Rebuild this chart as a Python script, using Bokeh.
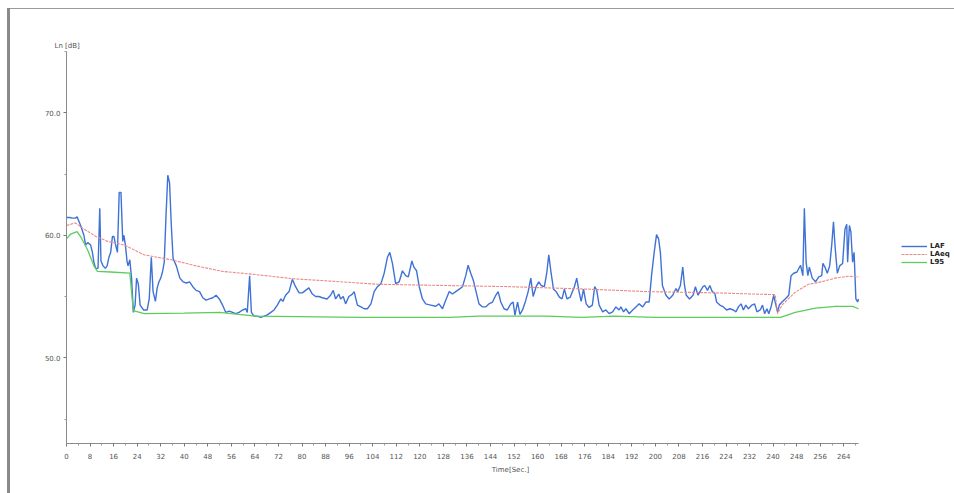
from bokeh.plotting import figure
from bokeh.models import Range1d, FixedTicker, Legend, LegendItem, PrintfTickFormatter
from bokeh.embed import file_html
from bokeh.resources import INLINE

# ---- data ----
laf_t = [0, 1, 2, 3, 3.6, 4.8, 5.9, 6.5, 7.2, 8.2, 8.8, 9.3, 9.9, 10.7, 11.3, 11.7, 12.4, 13.2, 13.8,
         14.4, 15.0, 15.6, 16.1, 16.7, 17.3, 17.9, 18.5, 19.1, 19.5, 20.0, 20.6, 20.9, 21.5, 22.1, 22.7,
         23.3, 23.8, 24.4, 25.0, 26.2, 27.4, 28.1, 28.8, 29.4, 30.2, 30.8, 31.4, 32.0, 32.6, 33.2, 33.8,
         34.4, 35.0, 35.6, 36.2, 37.3, 38.5, 39.6, 40.7, 41.8, 42.9, 44.0, 45.2, 46.3, 47.4, 48.5, 49.7,
         50.8, 51.9, 53.0, 54.1, 55.3, 56.4, 57.5, 58.6, 59.8, 60.9, 61.4, 62.2, 62.8, 63.7, 64.8, 66.0,
         67.1, 68.2, 69.4, 70.5, 71.6, 72.8, 73.5, 74.4, 75.6, 76.7, 77.8, 79.0, 80.1, 81.2, 82.3, 83.5,
         84.6, 85.7, 86.9, 88.5, 89.7, 90.6, 91.4, 92.5, 93.1, 94.0, 94.8, 95.9, 97.1, 97.7, 98.8, 100.0,
         101.1, 102.2, 103.4, 104.5, 105.6, 106.8, 107.9, 109.0, 109.8, 110.7, 111.8, 113.0, 114.1, 115.2,
         116.1, 117.3, 118.0, 118.9, 119.8, 120.9, 122.0, 123.7, 125.4, 126.5, 127.7, 128.8, 130.0, 131.1,
         132.2, 133.4, 134.5, 135.6, 136.4, 137.3, 138.2, 139.0, 140.1, 141.3, 142.4, 143.5, 144.7, 145.8,
         146.6, 147.5, 148.6, 149.7, 150.9, 151.7, 152.3, 153.2, 154.0, 154.9, 156.0, 156.8, 157.7, 158.5,
         159.5, 160.4, 161.2, 162.3, 163.1, 163.8, 164.6, 165.4, 166.3, 167.4, 168.3, 169.1, 170.0, 171.1,
         172.5, 173.3, 174.0, 174.8, 175.6, 176.5, 177.5, 178.6, 179.4, 180.1, 180.9, 182.1, 183.2, 184.3,
         185.5, 186.6, 187.7, 188.3, 189.2, 190.0, 191.1, 192.3, 193.4, 194.5, 195.7, 196.8, 197.9, 198.7,
         199.6, 200.4, 201.1, 201.7, 202.4, 203.6, 204.7, 205.9, 207.0, 207.6, 208.5, 209.3, 209.9, 210.5,
         211.6, 212.8, 213.6, 214.5, 215.4, 216.2, 216.8, 217.7, 218.5, 219.3, 220.2, 220.8, 221.9, 223.1,
         224.2, 225.3, 226.5, 227.4, 228.2, 229.1, 229.9, 230.7, 231.6, 232.8, 233.7, 234.5, 235.6, 236.4,
         237.1, 237.9, 238.5, 239.3, 240.2, 240.7, 241.5, 242.1, 243.0, 244.1, 245.3, 246.1, 247.0, 248.1,
         249.3, 250.1, 250.6, 251.2, 251.8, 252.3, 253.3, 254.4, 255.5, 256.5, 256.9, 257.6, 258.4, 259.2,
         259.9, 260.5, 261.0, 261.8, 262.6, 263.6, 264.4, 265.0, 265.3, 265.9, 266.4, 267.0, 267.5, 268.1,
         268.7, 269.0]
laf_db = [61.45, 61.45, 61.4, 61.4, 61.5, 60.8, 60.0, 59.2, 59.4, 59.2, 58.6, 57.8, 57.3, 57.3, 62.2, 57.9,
          57.5, 57.3, 57.5, 58.2, 58.6, 59.9, 59.9, 59.2, 58.6, 63.5, 63.5, 59.5, 60.0, 59.2, 57.8, 57.5,
          58.0, 56.5, 53.7, 54.3, 56.5, 56.0, 54.3, 53.9, 53.9, 54.8, 58.2, 55.4, 54.6, 55.7, 56.2, 56.5,
          57.0, 57.8, 61.6, 64.9, 64.3, 60.8, 58.1, 57.5, 56.5, 56.2, 56.1, 56.2, 55.8, 55.5, 55.4, 54.9,
          54.7, 54.8, 54.9, 55.1, 54.8, 54.3, 53.7, 53.8, 53.7, 53.6, 53.7, 53.9, 54.0, 53.7, 56.7, 53.7,
          53.4, 53.4, 53.3, 53.4, 53.5, 53.7, 53.9, 54.3, 54.8, 54.6, 55.1, 55.4, 56.4, 55.8, 55.3, 55.3,
          55.5, 55.7, 55.2, 55.0, 55.0, 54.9, 54.8, 55.1, 55.5, 54.8, 55.2, 54.8, 55.0, 54.4, 55.0, 55.2,
          55.4, 54.3, 54.15, 54.0, 54.0, 54.4, 55.4, 55.8, 56.05, 56.9, 58.2, 58.6, 57.7, 56.05, 56.2, 57.1,
          56.7, 56.6, 57.9, 57.4, 57.1, 55.8, 54.8, 54.4, 54.3, 54.2, 54.4, 54.0, 54.7, 55.4, 55.2, 55.4,
          55.6, 55.8, 56.7, 57.55, 56.9, 56.3, 55.5, 54.4, 54.15, 54.15, 54.4, 54.55, 55.1, 55.4, 54.55,
          54.0, 53.9, 54.4, 54.55, 53.45, 54.55, 53.55, 53.9, 54.7, 55.4, 56.5, 55.0, 55.8, 56.2, 55.9,
          55.8, 56.9, 58.4, 56.9, 55.6, 55.4, 54.95, 54.8, 55.6, 54.8, 54.95, 55.8, 56.5, 55.5, 54.6,
          55.6, 54.4, 54.1, 54.3, 55.8, 55.5, 54.3, 53.75, 53.9, 53.6, 53.75, 54.15, 53.9, 54.15, 53.75,
          54.0, 53.6, 53.9, 54.15, 54.4, 54.15, 54.55, 54.55, 56.7, 58.6, 60.05, 59.7, 58.6, 55.9, 55.1,
          54.8, 55.1, 55.65, 55.4, 55.9, 57.4, 55.9, 55.1, 54.8, 55.1, 55.8, 55.1, 55.5, 55.8, 55.9, 55.5,
          55.9, 55.4, 55.25, 54.55, 54.3, 54.15, 53.9, 54.0, 53.9, 53.75, 54.15, 54.4, 53.9, 54.3, 54.0,
          54.3, 54.4, 53.75, 53.9, 54.3, 53.6, 54.0, 53.6, 54.15, 55.1, 54.55, 53.75, 54.3, 54.55, 54.8,
          55.1, 56.7, 56.9, 57.0, 57.55, 56.7, 62.2, 57.8, 56.7, 57.4, 56.5, 56.2, 56.6, 56.7, 57.7, 57.4,
          56.9, 57.5, 59.2, 61.1, 59.2, 56.9, 57.5, 57.7, 60.5, 60.9, 57.8, 60.8, 60.3, 57.8, 58.6, 54.8,
          54.55, 54.8]

leq_t = [0, 3, 6, 10, 14, 19.6, 26.4, 35.5, 44, 53, 62, 77, 87, 105.6, 128, 151, 177, 197, 220,
         240.7, 241.5, 243, 247.5, 252, 256.5, 261, 265.5, 269]
leq_db = [60.8, 61.0, 60.5, 59.9, 59.5, 59.2, 58.4, 58.0, 57.5, 57.05, 56.85, 56.45, 56.3, 56.0, 55.9,
          55.8, 55.6, 55.4, 55.3, 55.15, 53.6, 54.3, 55.35, 56.0, 56.2, 56.5, 56.65, 56.6]

l95_t = [0, 1.4, 3.6, 5, 7.2, 9.3, 10.5, 15, 21.5, 22.7, 26.4, 40, 51.9, 64.3, 100, 130, 140, 163, 175,
         186, 200, 242.5, 247.5, 254.4, 261.2, 267, 269]
l95_db = [59.7, 60.1, 60.3, 59.8, 58.8, 57.5, 57.05, 57.0, 56.9, 53.85, 53.6, 53.65, 53.7, 53.4, 53.3,
          53.3, 53.4, 53.4, 53.3, 53.4, 53.3, 53.3, 53.7, 54.05, 54.2, 54.2, 54.0]

x_major = list(range(0, 265, 8))
x_minor = list(range(4, 269, 8))
y_major = [50, 60, 70]
y_minor = [45, 55, 65, 75]

series_labels = ["LAF", "LAeq", "L95"]

FONT = "DejaVu Sans"
TXT = "#555555"

# time axis runs 0..269 s; the frame continues to the right edge to hold the legend
p = figure(width=954, height=493, output_backend="svg", toolbar_location=None,
           x_range=Range1d(0, 301.6), y_range=Range1d(43, 75),
           min_border_left=66, min_border_right=0, min_border_top=51, min_border_bottom=50,
           title="Ln [dB]")
p.border_fill_color = None
p.background_fill_color = "white"
p.outline_line_color = None
p.grid.visible = False
p.styles = {
    "background-color": "white",
    "background-image": "linear-gradient(#8a8a8a,#8a8a8a), linear-gradient(#9a9a9a,#9a9a9a)",
    "background-size": "3px 485px, 946px 1px",
    "background-position": "7px 8px, 8px 8px",
    "background-repeat": "no-repeat",
}

p.title.text_font = FONT
p.title.text_font_size = "7px"
p.title.text_font_style = "normal"
p.title.text_color = TXT
p.title.align = "left"
p.title.offset = -12
p.title.standoff = 3

for ax in (p.xaxis[0], p.yaxis[0]):
    ax.axis_line_color = "#8a8a8a"
    ax.axis_line_width = 1
    ax.major_tick_line_color = "#777777"
    ax.minor_tick_line_color = "#999999"
    ax.major_tick_in = 0
    ax.major_tick_out = 3
    ax.minor_tick_in = 0
    ax.minor_tick_out = 2
    ax.major_label_text_font = FONT
    ax.major_label_text_font_size = "7px"
    ax.major_label_text_color = TXT
    ax.axis_label_text_font = FONT
    ax.axis_label_text_font_size = "7px"
    ax.axis_label_text_font_style = "normal"
    ax.axis_label_text_color = TXT

p.xaxis.bounds = (0, 269)
p.xaxis.ticker = FixedTicker(ticks=x_major, minor_ticks=x_minor)
p.xaxis.major_label_standoff = 6
p.xaxis.axis_label = "Time[Sec.]"
p.xaxis.axis_label_standoff = 4
p.xaxis.axis_label_text_align = "right"
p.yaxis.ticker = FixedTicker(ticks=y_major, minor_ticks=y_minor)
p.yaxis.formatter = PrintfTickFormatter(format="%.1f")
p.yaxis.major_label_standoff = 3

r_laf = p.line(laf_t, laf_db, line_color="#3f72d6", line_width=1.4)
r_leq = p.line(leq_t, leq_db, line_color="#ec8a86", line_width=1.1, line_dash="3 1")
r_l95 = p.line(l95_t, l95_db, line_color="#5ccc5c", line_width=1.3)

legend = Legend(items=[LegendItem(label=series_labels[0], renderers=[r_laf]),
                       LegendItem(label=series_labels[1], renderers=[r_leq]),
                       LegendItem(label=series_labels[2], renderers=[r_l95])],
                location=(835, 177))
legend.border_line_color = None
legend.background_fill_alpha = 0
legend.glyph_width = 26
legend.glyph_height = 8
legend.label_height = 8
legend.label_standoff = 3
legend.spacing = 0
legend.padding = 1
legend.margin = 0
legend.label_text_font = FONT
legend.label_text_font_size = "7px"
legend.label_text_font_style = "bold"
legend.label_text_color = "#222222"
p.add_layout(legend)

open("out.html", "w").write(file_html(p, INLINE))
